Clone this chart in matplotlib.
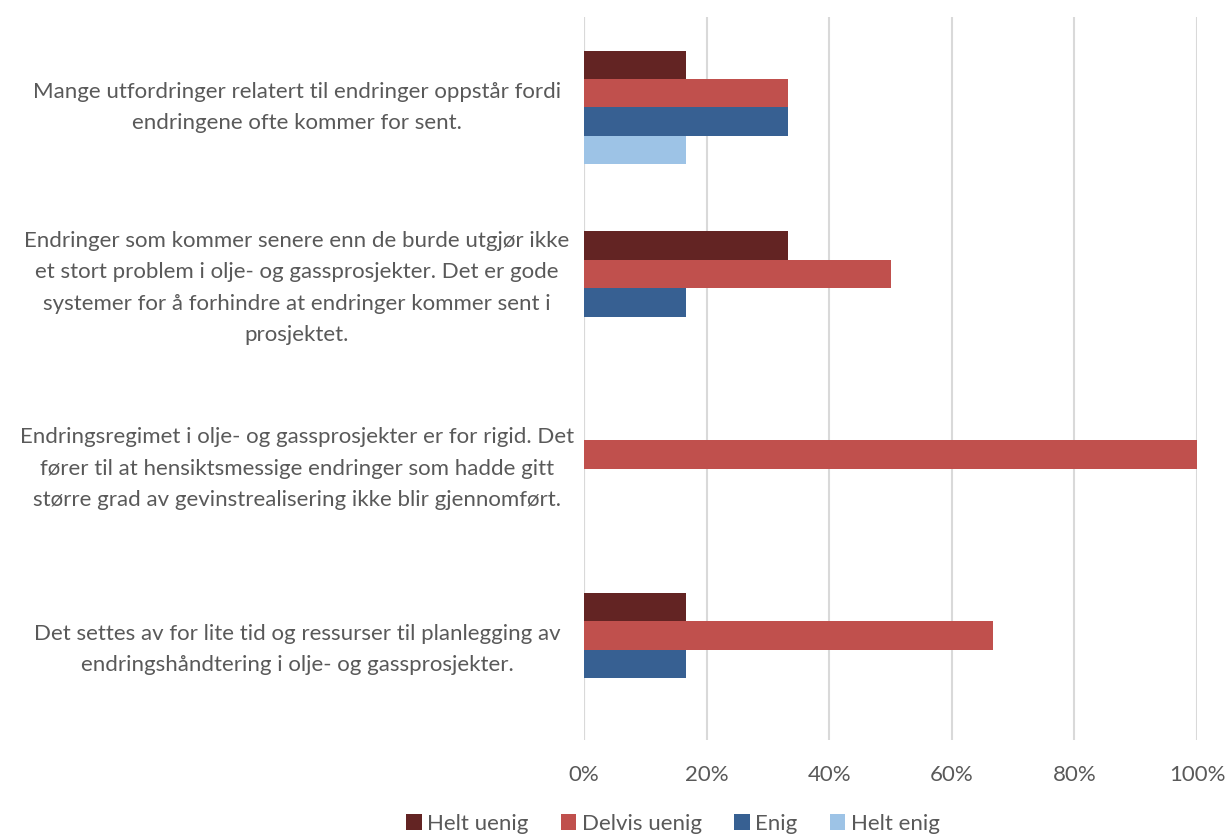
import matplotlib
matplotlib.use("Agg")
import matplotlib.pyplot as plt
import matplotlib.transforms as mtransforms
import numpy as np

categories = [
    "Mange utfordringer relatert til endringer oppstår fordi\nendringene ofte kommer for sent.",
    "Endringer som kommer senere enn de burde utgjør ikke\net stort problem i olje- og gassprosjekter. Det er gode\nsystemer for å forhindre at endringer kommer sent i\nprosjektet.",
    "Endringsregimet i olje- og gassprosjekter er for rigid. Det\nfører til at hensiktsmessige endringer som hadde gitt\nstørre grad av gevinstrealisering ikke blir gjennomført.",
    "Det settes av for lite tid og ressurser til planlegging av\nendringshåndtering i olje- og gassprosjekter.",
]
series_names = ["Helt uenig", "Delvis uenig", "Enig", "Helt enig"]
helt_uenig = [16.67, 33.33, 0.0, 16.67]
delvis_uenig = [33.33, 50.0, 100.0, 66.67]
enig = [33.33, 16.67, 0.0, 16.67]
helt_enig = [16.67, 0.0, 0.0, 0.0]
xticks = [0, 20, 40, 60, 80, 100]
xtick_labels = ["0%", "20%", "40%", "60%", "80%", "100%"]

colors = ["#632423", "#C0504D", "#376092", "#9DC3E6"]
text_color = "#595959"
font = ["Lato", "DejaVu Sans"]

plt.rcParams["font.family"] = font

fig = plt.figure(figsize=(12.25, 8.34), dpi=100)
ax = fig.add_axes([584 / 1225, 1 - 740 / 834, (1197 - 584) / 1225, (740 - 17) / 834])

values = [helt_uenig, delvis_uenig, enig, helt_enig]
y = np.arange(len(categories))
h = 0.157
for j, (name, vals) in enumerate(zip(series_names, values)):
    ax.barh(y + (j - 1.5) * h, vals, height=h, color=colors[j], label=name, zorder=3)

ax.set_xlim(0, 100)
ax.set_ylim(3.5, -0.5)
ax.set_xticks(xticks)
ax.set_xticklabels(xtick_labels, color=text_color, fontsize=16)
ax.tick_params(axis="x", length=0, pad=18)
ax.set_yticks([])
ax.grid(axis="x", color="#D9D9D9", linewidth=1.5, zorder=0)
for s in ax.spines.values():
    s.set_visible(False)
ax.axvline(0, color="#D9D9D9", linewidth=1.5, zorder=1)

trans = mtransforms.blended_transform_factory(fig.transFigure, ax.transData)
for i, label in enumerate(categories):
    ax.text(297 / 1225, i, label, transform=trans, ha="center", va="center",
            multialignment="center", fontsize=16, color=text_color, linespacing=1.72)

fig.legend(loc="lower center", bbox_to_anchor=(673 / 1225, -0.024), ncol=4, frameon=False,
           fontsize=16, handlelength=0.7, handleheight=0.7, handletextpad=0.25,
           columnspacing=1.45, labelcolor=text_color)

fig.savefig("out.png", dpi=100)
